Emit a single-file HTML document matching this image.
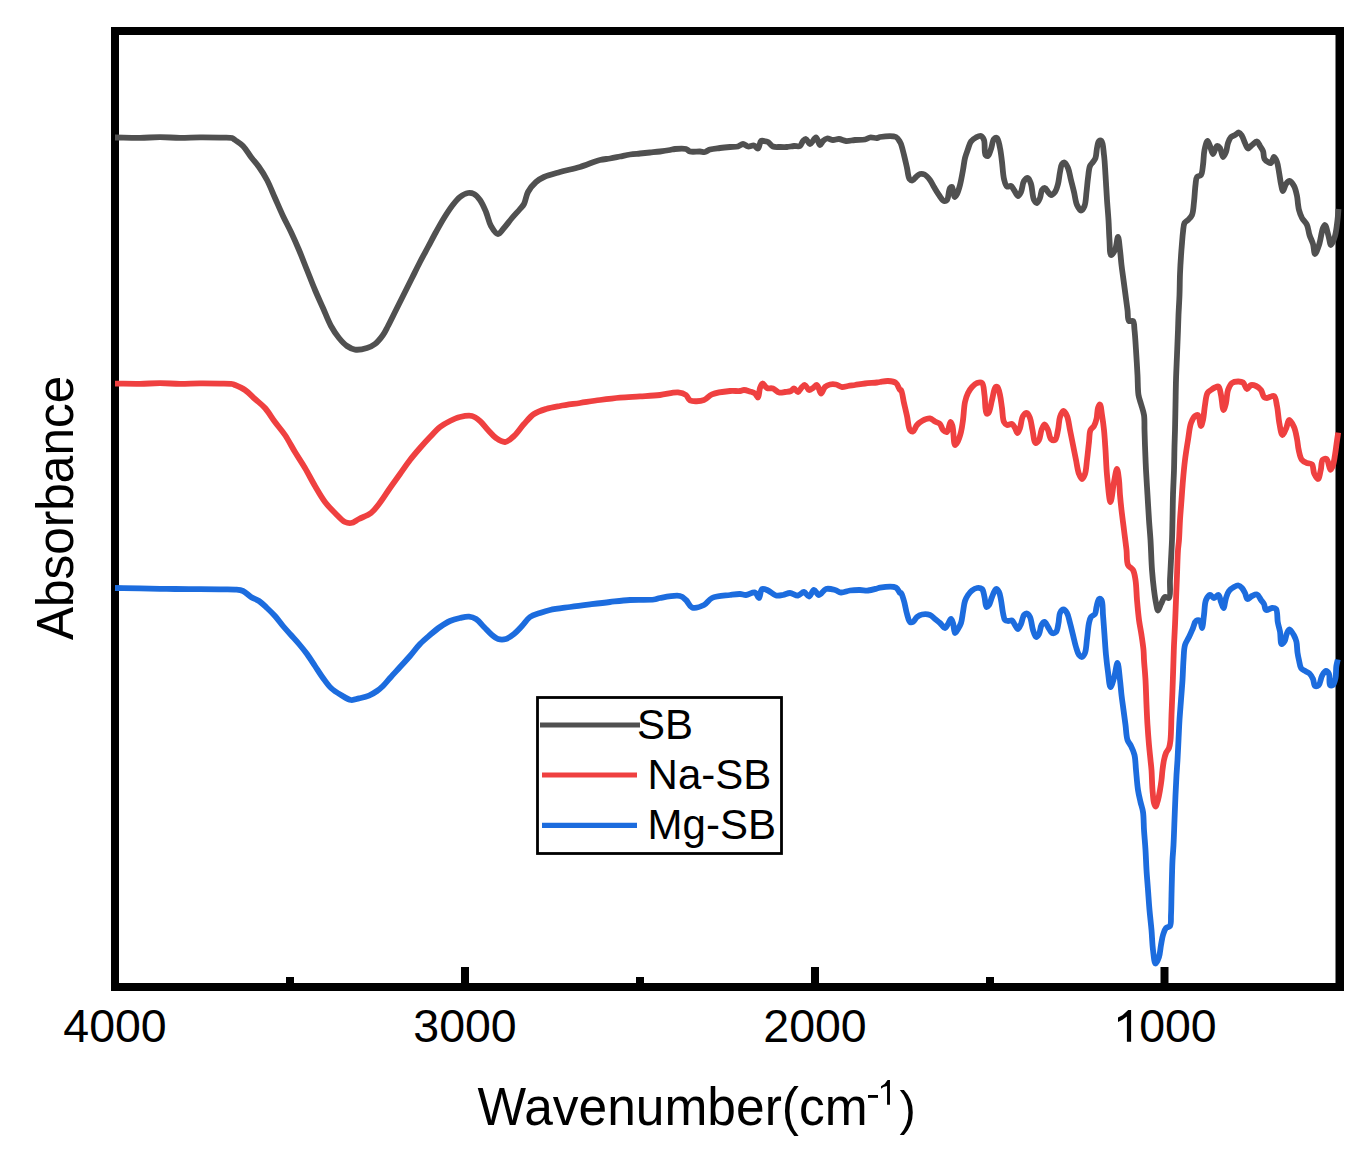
<!DOCTYPE html>
<html><head><meta charset="utf-8"><style>
html,body{margin:0;padding:0;background:#fff;}
body{width:1371px;height:1161px;overflow:hidden;}
svg{display:block;}
text{font-family:"Liberation Sans", sans-serif;fill:#000;}
</style></head><body>
<svg width="1371" height="1161" viewBox="0 0 1371 1161">
<rect x="0" y="0" width="1371" height="1161" fill="#fff"/>
<!-- ticks -->
<g fill="#000">
<rect x="286" y="977" width="8" height="8"/>
<rect x="636" y="977" width="8" height="8"/>
<rect x="986" y="977" width="8" height="8"/>
<rect x="461" y="967" width="8" height="18"/>
<rect x="811" y="967" width="8" height="18"/>
<rect x="1160.5" y="967" width="8" height="18"/>
</g>
<!-- frame -->
<g fill="#000">
<rect x="111" y="27" width="1233" height="8"/>
<rect x="111" y="983" width="1233" height="8"/>
<rect x="111" y="27" width="8" height="964"/>
<rect x="1335.5" y="27" width="8.5" height="964"/>
</g>
<!-- curves -->
<g fill="none" stroke-width="5.8" stroke-linejoin="round" stroke-linecap="butt">
<path stroke="#505050" d="M115.00 137.50 C123.33 137.60 132.13 137.87 140.00 137.80 C147.04 137.74 153.33 137.20 160.00 137.20 C166.67 137.20 173.33 137.77 180.00 137.80 C186.67 137.83 193.33 137.43 200.00 137.40 C206.67 137.37 214.18 137.47 220.00 137.60 C224.51 137.70 229.41 137.17 232.00 138.00 C233.42 138.46 233.77 139.13 235.00 140.00 C237.04 141.44 240.51 143.47 243.00 146.00 C245.91 148.95 248.29 153.45 251.00 157.00 C253.63 160.44 256.44 163.36 259.00 167.00 C261.79 170.97 264.48 175.22 267.00 180.00 C269.86 185.43 272.33 192.00 275.00 198.00 C277.67 204.00 280.27 210.21 283.00 216.00 C285.61 221.52 288.39 226.48 291.00 232.00 C293.73 237.79 296.39 243.82 299.00 250.00 C301.73 256.47 304.33 263.33 307.00 270.00 C309.67 276.67 312.27 283.53 315.00 290.00 C317.61 296.18 320.33 302.00 323.00 308.00 C325.67 314.00 328.09 320.71 331.00 326.00 C333.49 330.52 336.15 334.52 339.00 338.00 C341.52 341.08 344.14 344.03 347.00 346.00 C349.52 347.74 351.99 349.16 355.00 349.60 C358.53 350.12 363.48 349.08 367.00 348.00 C370.02 347.07 372.50 345.91 375.00 344.00 C377.90 341.78 380.78 338.13 383.00 335.00 C385.05 332.11 386.18 329.45 388.00 326.00 C390.40 321.45 393.33 315.33 396.00 310.00 C398.67 304.67 401.33 299.33 404.00 294.00 C406.67 288.67 409.33 283.33 412.00 278.00 C414.67 272.67 417.30 267.23 420.00 262.00 C422.63 256.90 425.33 252.00 428.00 247.00 C430.67 242.00 433.30 236.89 436.00 232.00 C438.63 227.23 441.25 222.44 444.00 218.00 C446.60 213.80 449.20 209.63 452.00 206.00 C454.56 202.69 457.10 199.22 460.00 197.00 C462.50 195.09 465.47 193.38 468.00 193.00 C470.09 192.69 472.14 193.04 474.00 194.00 C476.20 195.13 478.18 197.48 480.00 200.00 C482.29 203.17 484.20 207.79 486.00 212.00 C487.89 216.43 488.74 222.15 491.00 226.00 C492.91 229.25 495.72 233.92 498.00 234.00 C500.04 234.07 501.92 230.32 504.00 228.00 C506.55 225.15 509.29 221.21 512.00 218.00 C514.63 214.89 517.82 211.59 520.00 209.00 C521.59 207.11 522.83 206.16 524.00 204.00 C525.65 200.97 526.01 195.66 528.00 192.00 C530.00 188.32 533.10 184.58 536.00 182.00 C538.49 179.78 540.76 178.49 544.00 177.00 C548.32 175.02 554.35 173.59 560.00 172.00 C566.27 170.24 573.38 168.98 580.00 167.00 C586.71 164.99 594.42 161.38 600.00 160.00 C603.85 159.05 606.67 159.08 610.00 158.50 C613.34 157.92 616.67 157.17 620.00 156.50 C623.33 155.83 626.65 155.00 630.00 154.50 C633.32 154.00 636.67 153.83 640.00 153.50 C643.33 153.17 646.67 152.83 650.00 152.50 C653.33 152.17 656.67 151.92 660.00 151.50 C663.34 151.08 667.24 150.48 670.00 150.00 C671.96 149.66 673.00 149.20 675.00 149.00 C677.94 148.71 683.32 148.23 686.00 149.00 C687.76 149.50 688.28 151.01 690.00 151.50 C692.51 152.22 697.24 151.36 700.00 151.50 C701.96 151.60 703.38 152.30 705.00 152.00 C706.71 151.68 707.99 150.14 710.00 149.50 C712.71 148.64 716.66 148.42 720.00 148.00 C723.33 147.58 726.85 147.26 730.00 147.00 C732.81 146.77 735.70 147.12 738.00 146.50 C739.92 145.98 741.33 144.00 743.00 144.00 C744.67 144.00 746.21 146.23 748.00 146.50 C749.87 146.78 752.28 145.08 754.00 145.50 C755.56 145.88 756.91 148.81 758.00 148.50 C759.39 148.11 759.60 141.95 761.00 141.00 C761.85 140.42 762.94 140.87 764.00 141.00 C765.25 141.15 766.68 141.30 768.00 142.00 C769.69 142.90 771.03 145.66 773.00 146.50 C775.01 147.36 777.67 146.92 780.00 147.00 C782.33 147.08 784.67 147.17 787.00 147.00 C789.34 146.83 791.75 146.16 794.00 146.00 C796.07 145.85 798.50 146.85 800.00 146.00 C801.48 145.16 801.85 142.21 803.00 141.00 C803.91 140.05 805.00 138.84 806.00 139.00 C807.33 139.21 808.50 143.95 810.00 144.00 C811.77 144.06 814.32 137.28 816.00 137.50 C817.64 137.71 818.68 144.90 820.00 145.00 C821.01 145.08 821.81 142.09 823.00 141.00 C824.15 139.94 825.47 138.74 827.00 138.50 C828.75 138.22 830.99 139.92 833.00 140.00 C834.99 140.08 836.94 138.88 839.00 139.00 C841.26 139.13 843.50 140.79 846.00 141.00 C848.79 141.23 851.92 140.25 855.00 140.00 C858.24 139.74 862.28 140.09 865.00 139.50 C867.00 139.06 868.16 137.79 870.00 137.50 C872.10 137.17 875.17 138.23 877.00 138.00 C878.23 137.85 878.58 137.23 880.00 137.00 C883.20 136.48 892.64 135.39 896.00 137.00 C898.12 138.02 899.15 140.67 900.00 142.00 C900.50 142.78 900.63 143.04 901.00 144.00 C901.83 146.17 903.04 151.17 904.00 155.00 C905.04 159.14 906.05 163.85 907.00 168.00 C907.87 171.82 908.02 177.11 909.50 179.00 C910.31 180.03 911.52 180.66 912.50 180.50 C913.69 180.31 914.75 178.08 916.00 177.00 C917.25 175.91 918.54 174.40 920.00 174.00 C921.39 173.62 923.04 173.80 924.50 174.50 C926.41 175.42 928.43 177.94 930.00 180.00 C931.60 182.10 932.57 184.60 934.00 187.00 C935.55 189.59 937.25 192.58 939.00 195.00 C940.60 197.20 942.39 200.54 944.00 201.00 C945.02 201.29 946.17 200.90 947.00 200.00 C948.65 198.22 948.60 189.74 950.00 188.00 C950.59 187.26 951.42 186.73 952.00 187.00 C953.24 187.57 953.34 196.74 954.50 197.00 C955.21 197.16 956.24 195.36 957.00 194.00 C958.18 191.88 959.09 188.41 960.00 185.00 C961.15 180.67 962.13 174.73 963.00 170.00 C963.77 165.78 964.09 161.68 965.00 158.00 C965.81 154.75 966.96 151.85 968.00 149.00 C968.96 146.37 969.54 143.47 971.00 141.50 C972.30 139.75 974.24 138.42 976.00 137.50 C977.59 136.67 979.66 135.56 981.00 136.00 C982.31 136.43 983.26 138.10 984.00 140.00 C985.28 143.30 983.97 152.96 985.50 155.00 C986.15 155.86 987.26 156.31 988.00 156.00 C989.25 155.48 990.07 151.57 991.00 149.00 C992.09 145.99 992.47 140.57 994.00 139.00 C994.84 138.13 996.16 137.56 997.00 138.00 C998.53 138.79 999.20 144.35 1000.00 148.00 C1000.93 152.24 1001.36 157.10 1002.00 162.00 C1002.70 167.39 1002.87 174.54 1004.00 179.00 C1004.78 182.07 1005.48 185.60 1007.00 186.50 C1008.07 187.13 1009.87 185.52 1011.00 186.00 C1012.26 186.53 1012.95 188.52 1014.00 190.00 C1015.26 191.78 1016.74 195.96 1018.00 196.00 C1019.05 196.03 1020.13 193.77 1021.00 192.00 C1022.31 189.33 1022.39 183.37 1024.00 181.00 C1025.07 179.43 1026.88 177.74 1028.00 178.00 C1029.29 178.31 1030.14 181.44 1031.00 184.00 C1032.34 187.98 1032.37 196.90 1034.00 200.00 C1034.83 201.58 1036.07 203.11 1037.00 203.00 C1038.09 202.87 1039.20 199.93 1040.00 198.00 C1040.95 195.71 1040.82 191.67 1042.00 190.00 C1042.78 188.90 1044.07 187.84 1045.00 188.00 C1046.10 188.19 1046.96 190.80 1048.00 192.00 C1048.96 193.11 1049.89 194.92 1051.00 195.00 C1052.20 195.09 1053.91 193.45 1055.00 192.00 C1056.42 190.10 1057.20 186.98 1058.00 184.00 C1058.95 180.45 1059.25 175.58 1060.00 172.00 C1060.61 169.05 1060.87 165.52 1062.00 164.00 C1062.67 163.10 1063.69 162.31 1064.50 162.50 C1065.71 162.79 1067.02 165.72 1068.00 168.00 C1069.35 171.15 1070.00 176.00 1071.00 180.00 C1072.00 184.00 1073.02 187.92 1074.00 192.00 C1075.02 196.24 1075.49 201.70 1077.00 205.00 C1078.08 207.36 1079.70 210.48 1081.00 210.50 C1082.19 210.52 1083.62 208.07 1084.50 206.00 C1085.88 202.74 1085.92 196.67 1086.50 192.00 C1087.08 187.34 1087.39 182.48 1088.00 178.00 C1088.57 173.84 1088.79 168.83 1090.00 166.00 C1090.78 164.19 1092.07 163.35 1093.00 162.00 C1093.90 160.69 1094.87 159.72 1095.50 158.00 C1096.43 155.49 1096.35 151.02 1097.00 148.00 C1097.56 145.44 1097.86 141.86 1099.00 141.00 C1099.67 140.49 1100.81 140.42 1101.50 141.00 C1103.15 142.38 1103.36 149.90 1104.00 155.00 C1104.77 161.06 1105.02 167.96 1105.50 175.00 C1106.03 182.87 1106.47 192.13 1107.00 200.00 C1107.48 207.04 1108.08 213.33 1108.50 220.00 C1108.92 226.66 1109.04 233.82 1109.50 240.00 C1109.90 245.36 1109.56 254.58 1111.00 255.00 C1111.94 255.28 1113.93 252.21 1115.00 250.00 C1116.55 246.81 1117.16 236.97 1118.00 237.00 C1118.83 237.03 1119.43 245.50 1120.00 250.00 C1120.61 254.81 1120.92 260.00 1121.50 265.00 C1122.08 270.00 1122.83 275.00 1123.50 280.00 C1124.17 285.00 1124.83 290.00 1125.50 295.00 C1126.17 300.00 1126.88 305.39 1127.50 310.00 C1128.03 313.95 1127.42 319.62 1129.00 321.00 C1129.95 321.83 1132.07 320.21 1133.00 321.00 C1134.41 322.20 1134.07 326.40 1134.50 330.00 C1135.14 335.34 1135.52 342.96 1136.00 350.00 C1136.53 357.87 1137.07 367.13 1137.50 375.00 C1137.89 382.04 1137.64 389.68 1138.50 395.00 C1139.09 398.63 1140.13 400.85 1141.00 404.00 C1141.96 407.48 1143.40 411.01 1144.00 415.00 C1144.69 419.58 1144.34 424.92 1144.50 430.00 C1144.67 435.25 1144.79 440.13 1145.00 446.00 C1145.26 453.19 1145.59 461.92 1146.00 470.00 C1146.42 478.25 1147.00 486.67 1147.50 495.00 C1148.00 503.33 1148.47 512.13 1149.00 520.00 C1149.48 527.04 1150.04 532.66 1150.50 540.00 C1151.06 548.99 1151.33 561.02 1152.00 570.00 C1152.55 577.35 1153.25 584.06 1154.00 590.00 C1154.61 594.81 1155.22 599.28 1156.00 603.00 C1156.60 605.86 1157.14 610.43 1158.00 610.50 C1158.82 610.57 1159.88 606.18 1161.00 604.00 C1162.19 601.68 1163.36 597.70 1165.00 597.00 C1166.17 596.50 1168.05 598.70 1169.00 598.00 C1170.99 596.53 1169.67 586.16 1170.00 580.00 C1170.34 573.51 1170.67 566.67 1171.00 560.00 C1171.33 553.33 1171.75 546.67 1172.00 540.00 C1172.25 533.33 1172.34 527.04 1172.50 520.00 C1172.68 512.13 1172.75 503.33 1173.00 495.00 C1173.25 486.67 1173.75 478.25 1174.00 470.00 C1174.25 461.92 1174.31 453.19 1174.50 446.00 C1174.65 440.13 1174.85 435.93 1175.00 430.00 C1175.19 422.59 1175.33 413.33 1175.50 405.00 C1175.67 396.67 1175.75 388.33 1176.00 380.00 C1176.25 371.67 1176.67 363.33 1177.00 355.00 C1177.33 346.67 1177.73 337.28 1178.00 330.00 C1178.21 324.37 1178.28 320.36 1178.50 315.00 C1178.76 308.81 1179.25 301.75 1179.50 295.00 C1179.76 288.09 1179.73 280.73 1180.00 274.00 C1180.25 267.77 1180.63 261.51 1181.00 256.00 C1181.31 251.31 1181.65 247.15 1182.00 243.00 C1182.32 239.18 1182.55 235.47 1183.00 232.00 C1183.41 228.84 1183.33 225.07 1184.50 223.00 C1185.33 221.53 1186.85 221.19 1188.00 220.00 C1189.36 218.60 1191.02 217.22 1192.00 215.00 C1193.40 211.81 1193.44 206.63 1194.00 202.00 C1194.64 196.72 1194.87 189.60 1195.50 185.00 C1195.94 181.82 1195.75 178.65 1197.00 177.00 C1197.92 175.78 1200.02 176.28 1201.00 175.00 C1202.48 173.07 1202.45 168.68 1203.00 165.00 C1203.67 160.52 1203.58 154.32 1204.50 150.00 C1205.23 146.57 1206.45 141.07 1207.50 141.00 C1208.30 140.94 1209.18 144.11 1210.00 146.00 C1211.02 148.33 1211.85 153.94 1213.00 154.00 C1214.18 154.06 1215.52 146.39 1217.00 146.00 C1217.94 145.75 1219.15 146.88 1220.00 148.00 C1221.38 149.81 1221.85 156.87 1223.00 157.00 C1223.91 157.10 1225.21 153.99 1226.00 152.00 C1227.00 149.50 1227.06 145.65 1228.00 143.00 C1228.80 140.74 1229.65 138.35 1231.00 137.00 C1232.10 135.90 1233.68 135.74 1235.00 135.00 C1236.35 134.24 1237.83 132.32 1239.00 132.50 C1240.16 132.68 1241.10 134.55 1242.00 136.00 C1243.16 137.86 1243.95 140.83 1245.00 143.00 C1245.96 144.97 1246.77 148.28 1248.00 148.50 C1249.14 148.70 1250.56 146.13 1252.00 145.00 C1253.54 143.79 1255.64 141.24 1257.00 141.50 C1258.28 141.74 1259.02 144.45 1260.00 146.00 C1261.02 147.61 1262.26 149.06 1263.00 151.00 C1263.87 153.29 1263.40 157.10 1264.50 159.00 C1265.33 160.43 1266.81 161.33 1268.00 162.00 C1268.98 162.56 1270.13 163.36 1271.00 163.00 C1272.27 162.47 1272.96 157.04 1274.00 157.00 C1274.97 156.96 1276.21 159.97 1277.00 162.00 C1278.04 164.69 1278.36 168.51 1279.00 172.00 C1279.70 175.81 1280.22 180.55 1281.00 184.00 C1281.60 186.67 1282.18 190.95 1283.00 191.00 C1283.84 191.05 1284.72 185.74 1286.00 184.00 C1287.00 182.64 1288.30 180.92 1289.50 181.00 C1290.95 181.09 1292.81 183.88 1294.00 186.00 C1295.48 188.64 1296.33 192.83 1297.00 196.00 C1297.59 198.79 1297.64 201.53 1298.00 204.00 C1298.31 206.15 1298.43 207.89 1299.00 210.00 C1299.67 212.51 1300.67 215.50 1302.00 218.00 C1303.33 220.50 1305.77 222.33 1307.00 225.00 C1308.35 227.93 1308.48 231.79 1309.50 235.00 C1310.49 238.11 1312.09 240.88 1313.00 244.00 C1313.94 247.21 1313.99 253.89 1315.00 254.00 C1316.00 254.11 1317.81 248.54 1319.00 245.00 C1320.59 240.29 1321.57 231.28 1323.00 228.00 C1323.65 226.51 1324.34 224.91 1325.00 225.00 C1326.18 225.17 1327.46 232.51 1328.50 236.00 C1329.44 239.14 1329.94 244.92 1331.00 245.00 C1332.09 245.08 1333.97 239.51 1335.00 236.00 C1336.33 231.50 1336.90 224.84 1337.50 220.00 C1337.99 216.00 1338.17 212.67 1338.50 209.00"/>
<path stroke="#EF4040" d="M115.00 383.60 C123.33 383.67 132.13 383.89 140.00 383.80 C147.04 383.72 153.33 383.20 160.00 383.20 C166.67 383.20 173.33 383.77 180.00 383.80 C186.67 383.83 193.33 383.43 200.00 383.40 C206.67 383.37 214.18 383.47 220.00 383.60 C224.51 383.70 229.36 383.53 232.00 384.00 C233.36 384.24 233.73 384.47 235.00 385.00 C237.38 385.99 241.81 387.82 245.00 390.00 C248.50 392.39 251.67 396.00 255.00 399.00 C258.33 402.00 261.85 404.47 265.00 408.00 C268.56 411.99 271.63 417.45 275.00 422.00 C278.29 426.44 281.81 430.27 285.00 435.00 C288.50 440.19 291.63 446.44 295.00 452.00 C298.30 457.44 301.74 462.47 305.00 468.00 C308.41 473.78 311.59 480.22 315.00 486.00 C318.26 491.53 321.44 497.30 325.00 502.00 C328.16 506.17 331.58 509.60 335.00 513.00 C338.25 516.24 341.88 520.50 345.00 522.00 C347.10 523.01 348.91 523.31 351.00 523.00 C353.53 522.62 356.06 520.47 359.00 519.00 C362.60 517.20 367.61 515.60 371.00 513.00 C374.21 510.54 376.24 507.53 379.00 504.00 C382.51 499.52 386.40 493.14 390.00 488.00 C393.39 483.16 396.67 478.67 400.00 474.00 C403.33 469.33 406.58 464.43 410.00 460.00 C413.26 455.78 416.62 451.88 420.00 448.00 C423.29 444.22 426.62 440.54 430.00 437.00 C433.29 433.55 436.49 429.74 440.00 427.00 C443.19 424.51 446.60 422.69 450.00 421.00 C453.27 419.38 456.45 417.84 460.00 417.00 C463.76 416.11 468.52 415.16 472.00 416.00 C475.08 416.75 477.48 418.87 480.00 421.00 C482.85 423.41 485.29 427.13 488.00 430.00 C490.63 432.79 493.05 435.97 496.00 438.00 C498.75 439.89 502.07 442.25 505.00 442.00 C508.07 441.74 511.10 438.60 514.00 436.00 C517.48 432.87 520.58 427.75 524.00 424.00 C527.25 420.44 530.24 416.52 534.00 414.00 C537.61 411.58 541.78 410.32 546.00 409.00 C550.43 407.62 554.90 406.93 560.00 406.00 C566.06 404.90 573.33 404.00 580.00 403.00 C586.67 402.00 593.33 400.90 600.00 400.00 C606.66 399.10 613.32 398.20 620.00 397.60 C626.66 397.00 633.33 396.83 640.00 396.40 C646.67 395.97 653.52 395.69 660.00 395.00 C666.17 394.34 673.24 391.99 678.00 392.40 C681.24 392.68 683.95 393.53 686.00 395.00 C687.83 396.32 687.89 399.37 690.00 400.40 C693.05 401.88 700.14 401.28 704.00 400.00 C707.23 398.93 708.61 395.83 712.00 394.40 C716.64 392.44 724.86 391.48 730.00 391.00 C733.80 390.64 737.43 391.32 740.00 391.00 C741.65 390.80 742.53 390.00 744.00 390.00 C745.80 390.00 748.11 390.89 750.00 391.50 C751.76 392.07 753.65 392.47 755.00 393.50 C756.30 394.49 757.22 397.67 758.00 397.50 C759.09 397.26 759.06 390.53 760.00 388.00 C760.69 386.16 761.42 383.65 762.50 383.50 C763.70 383.33 765.22 387.17 767.00 388.00 C768.73 388.80 771.08 387.83 773.00 388.50 C775.10 389.23 776.90 391.96 779.00 392.50 C780.92 392.99 783.01 392.25 785.00 392.00 C787.01 391.75 789.42 391.73 791.00 391.00 C792.27 390.42 792.93 388.49 794.00 388.50 C795.24 388.51 796.72 392.11 798.00 392.00 C799.40 391.88 800.67 388.22 802.00 387.00 C803.00 386.08 804.00 384.84 805.00 385.00 C806.33 385.21 807.52 389.68 809.00 390.00 C810.23 390.27 811.70 388.80 813.00 388.00 C814.37 387.15 815.82 384.71 817.00 385.00 C818.62 385.40 819.59 393.42 821.00 393.50 C822.27 393.57 823.34 388.52 825.00 387.00 C826.42 385.70 828.20 384.92 830.00 384.50 C831.86 384.06 834.04 384.11 836.00 384.50 C838.04 384.91 839.97 386.77 842.00 387.00 C843.97 387.23 845.92 386.32 848.00 386.00 C850.24 385.65 852.46 385.37 855.00 385.00 C858.04 384.56 861.51 383.91 865.00 383.50 C868.81 383.06 874.34 382.83 877.00 382.50 C878.34 382.33 878.76 382.18 880.00 382.00 C882.02 381.71 885.35 380.84 888.00 381.00 C890.68 381.16 894.00 381.48 896.00 383.00 C897.98 384.50 898.95 389.39 900.00 390.00 C900.37 390.21 900.68 389.75 901.00 390.00 C902.17 390.93 903.00 398.67 904.00 403.00 C905.00 407.33 906.02 411.58 907.00 416.00 C908.02 420.58 908.28 427.78 910.00 430.00 C910.83 431.07 912.05 431.77 913.00 431.50 C914.44 431.09 915.41 426.80 917.00 425.00 C918.45 423.36 920.02 422.05 922.00 421.00 C924.26 419.80 927.70 418.23 930.00 418.50 C931.92 418.73 933.32 420.58 935.00 421.50 C936.65 422.41 938.69 422.69 940.00 424.00 C941.43 425.43 941.65 428.65 943.00 430.00 C944.10 431.10 945.89 432.45 947.00 432.00 C948.70 431.31 949.42 422.07 950.50 422.00 C951.20 421.96 951.92 424.10 952.50 426.00 C953.70 429.92 953.47 444.56 955.00 445.00 C955.69 445.20 956.71 443.39 957.50 442.00 C958.79 439.72 960.10 435.53 961.00 432.00 C961.97 428.22 962.39 424.41 963.00 420.00 C963.75 414.62 963.92 406.92 965.00 402.00 C965.78 398.44 966.72 395.62 968.00 393.00 C969.12 390.71 970.44 388.70 972.00 387.00 C973.47 385.40 975.22 383.63 977.00 383.00 C978.58 382.45 980.78 382.00 982.00 383.00 C983.92 384.56 983.80 390.55 984.50 395.00 C985.37 400.48 984.83 412.34 986.50 413.50 C987.06 413.89 987.89 413.60 988.50 413.00 C990.05 411.48 990.83 404.33 992.00 400.00 C993.17 395.67 993.93 388.21 995.50 387.00 C996.11 386.54 996.92 386.57 997.50 387.00 C998.69 387.88 999.30 391.98 1000.00 395.00 C1000.88 398.78 1001.34 403.58 1002.00 408.00 C1002.68 412.58 1002.58 419.17 1004.00 422.00 C1004.78 423.55 1005.75 424.62 1007.00 425.00 C1008.37 425.41 1010.66 423.49 1012.00 424.00 C1013.32 424.51 1014.10 426.55 1015.00 428.00 C1015.95 429.53 1016.67 433.00 1017.50 433.00 C1018.33 433.00 1019.23 430.08 1020.00 428.00 C1021.14 424.91 1021.33 418.52 1023.00 416.00 C1024.06 414.40 1025.86 412.78 1027.00 413.00 C1028.23 413.24 1029.17 415.89 1030.00 418.00 C1031.20 421.06 1031.61 425.92 1032.50 430.00 C1033.43 434.25 1033.88 442.47 1035.50 443.00 C1036.45 443.31 1038.08 441.49 1039.00 440.00 C1040.38 437.77 1040.41 432.78 1041.50 430.00 C1042.35 427.83 1043.43 424.54 1044.50 424.50 C1045.59 424.46 1046.99 427.87 1048.00 430.00 C1049.22 432.57 1049.38 437.50 1051.00 439.00 C1052.07 439.99 1053.94 440.60 1055.00 440.00 C1056.69 439.04 1057.19 433.58 1058.00 430.00 C1058.91 425.98 1058.79 420.42 1060.00 417.00 C1060.88 414.52 1062.29 411.05 1063.50 411.00 C1064.63 410.95 1066.04 413.79 1067.00 416.00 C1068.48 419.39 1069.02 425.25 1070.00 430.00 C1071.02 434.91 1072.00 440.00 1073.00 445.00 C1074.00 450.00 1074.98 455.09 1076.00 460.00 C1076.98 464.75 1077.65 470.59 1079.00 474.00 C1079.86 476.18 1081.00 479.00 1082.00 479.00 C1083.00 479.00 1084.22 476.19 1085.00 474.00 C1086.21 470.59 1086.37 464.96 1087.00 460.00 C1087.71 454.38 1088.36 447.39 1089.00 442.00 C1089.52 437.59 1089.24 432.80 1090.50 430.00 C1091.33 428.14 1093.05 427.63 1094.00 426.00 C1095.13 424.08 1095.86 421.63 1096.50 419.00 C1097.29 415.78 1097.12 410.59 1098.00 408.00 C1098.53 406.44 1099.43 404.41 1100.00 404.50 C1100.93 404.65 1101.38 411.18 1102.00 415.00 C1102.74 419.55 1103.44 424.63 1104.00 430.00 C1104.64 436.18 1105.02 442.96 1105.50 450.00 C1106.03 457.87 1106.20 466.52 1107.00 475.00 C1107.84 483.84 1109.23 501.97 1110.50 502.00 C1111.59 502.02 1112.80 487.94 1114.00 482.00 C1114.98 477.19 1116.14 468.98 1117.00 469.00 C1117.79 469.02 1118.51 476.03 1119.00 480.00 C1119.57 484.60 1119.58 490.00 1120.00 495.00 C1120.42 500.00 1120.90 504.64 1121.50 510.00 C1122.20 516.19 1123.17 523.33 1124.00 530.00 C1124.83 536.67 1125.80 543.81 1126.50 550.00 C1127.10 555.36 1126.35 561.52 1128.00 565.00 C1129.13 567.38 1131.78 567.84 1133.00 570.00 C1134.48 572.61 1134.86 576.06 1135.50 580.00 C1136.39 585.49 1136.42 593.34 1137.00 600.00 C1137.58 606.67 1138.18 613.82 1139.00 620.00 C1139.72 625.37 1140.75 629.99 1141.50 635.00 C1142.25 639.99 1143.09 645.50 1143.50 650.00 C1143.84 653.66 1143.76 656.10 1144.00 660.00 C1144.35 665.52 1145.10 672.96 1145.50 680.00 C1145.95 687.87 1146.15 697.13 1146.50 705.00 C1146.82 712.04 1147.08 718.34 1147.50 725.00 C1147.92 731.67 1148.46 738.82 1149.00 745.00 C1149.47 750.36 1150.05 755.51 1150.50 760.00 C1150.87 763.67 1151.21 766.09 1151.50 770.00 C1151.91 775.52 1152.01 784.06 1152.50 790.00 C1152.90 794.81 1153.22 800.08 1154.00 803.00 C1154.42 804.58 1154.95 806.51 1155.50 806.50 C1156.24 806.49 1157.29 802.43 1158.00 800.00 C1158.85 797.06 1159.42 793.34 1160.00 790.00 C1160.58 786.67 1161.08 783.34 1161.50 780.00 C1161.92 776.67 1162.08 773.33 1162.50 770.00 C1162.92 766.66 1163.35 763.02 1164.00 760.00 C1164.56 757.44 1165.10 755.08 1166.00 753.00 C1166.81 751.13 1168.26 749.94 1169.00 748.00 C1169.87 745.71 1170.11 743.42 1170.50 740.00 C1171.18 734.00 1171.17 723.33 1171.50 715.00 C1171.83 706.67 1172.18 698.71 1172.50 690.00 C1172.85 680.46 1173.22 668.28 1173.50 660.00 C1173.70 654.14 1173.78 650.36 1174.00 645.00 C1174.26 638.81 1174.68 632.04 1175.00 625.00 C1175.35 617.13 1175.67 608.33 1176.00 600.00 C1176.33 591.67 1176.67 583.33 1177.00 575.00 C1177.33 566.67 1177.55 556.45 1178.00 550.00 C1178.29 545.91 1178.71 543.91 1179.00 540.00 C1179.41 534.48 1179.58 526.66 1180.00 520.00 C1180.42 513.33 1181.00 506.67 1181.50 500.00 C1182.00 493.33 1182.42 486.66 1183.00 480.00 C1183.58 473.33 1184.17 466.66 1185.00 460.00 C1185.83 453.32 1186.96 446.39 1188.00 440.00 C1188.96 434.10 1189.44 427.33 1191.00 423.00 C1192.07 420.04 1193.50 417.23 1195.00 416.00 C1195.94 415.23 1197.16 414.55 1198.00 415.00 C1199.59 415.85 1200.06 425.97 1201.00 426.00 C1201.70 426.02 1202.43 422.48 1203.00 420.00 C1203.89 416.16 1204.20 409.71 1205.00 405.00 C1205.72 400.76 1206.00 395.53 1207.50 393.00 C1208.42 391.45 1209.76 390.91 1211.00 390.00 C1212.26 389.08 1213.67 388.09 1215.00 387.50 C1216.17 386.98 1217.58 385.99 1218.50 386.50 C1219.93 387.29 1220.25 391.74 1221.00 395.00 C1221.98 399.27 1222.46 409.91 1223.50 410.00 C1224.23 410.07 1225.31 405.73 1226.00 403.00 C1226.92 399.37 1226.75 393.57 1228.00 390.00 C1228.98 387.20 1230.16 384.39 1232.00 383.00 C1233.61 381.78 1236.09 381.55 1238.00 381.50 C1239.74 381.46 1241.59 381.52 1243.00 382.50 C1244.72 383.70 1245.55 388.83 1247.00 389.00 C1248.25 389.15 1249.45 385.47 1251.00 385.00 C1252.47 384.55 1254.42 385.26 1256.00 386.00 C1257.77 386.83 1259.69 388.28 1261.00 390.00 C1262.43 391.87 1262.66 395.77 1264.00 397.00 C1264.86 397.79 1265.79 397.97 1267.00 398.00 C1268.84 398.04 1272.35 395.10 1274.00 396.00 C1275.98 397.08 1276.18 402.19 1277.00 406.00 C1278.06 410.88 1278.29 417.85 1279.30 423.00 C1280.16 427.38 1281.04 434.83 1282.40 435.00 C1283.49 435.14 1285.21 430.46 1286.30 428.00 C1287.42 425.47 1287.73 420.19 1289.00 420.00 C1290.29 419.81 1292.71 424.21 1294.00 427.00 C1295.54 430.34 1296.21 435.07 1297.00 439.00 C1297.75 442.73 1297.87 446.48 1298.70 450.00 C1299.49 453.37 1300.17 457.52 1301.80 459.70 C1303.01 461.31 1304.73 462.03 1306.40 462.80 C1308.09 463.58 1310.61 462.98 1311.90 464.30 C1313.58 466.02 1313.02 471.01 1314.20 473.60 C1315.18 475.75 1316.96 479.17 1318.00 479.00 C1319.26 478.80 1320.02 472.96 1320.80 469.80 C1321.60 466.53 1321.17 461.22 1322.70 459.70 C1323.65 458.76 1325.50 458.36 1326.60 459.00 C1328.48 460.08 1329.24 469.68 1330.50 469.80 C1331.28 469.88 1332.15 467.69 1332.80 466.00 C1333.87 463.23 1334.45 458.21 1335.10 454.30 C1335.75 450.41 1336.16 446.35 1336.70 442.60 C1337.20 439.13 1337.70 435.93 1338.20 432.60"/>
<path stroke="#1C6CDE" d="M115.00 588.00 C123.33 588.13 132.13 588.26 140.00 588.40 C147.04 588.53 153.81 588.70 160.00 588.80 C165.36 588.89 169.36 588.94 175.00 589.00 C182.27 589.08 192.13 589.13 200.00 589.20 C207.04 589.26 213.81 589.33 220.00 589.40 C225.36 589.46 230.79 589.21 235.00 589.60 C238.10 589.89 240.46 589.90 243.00 591.00 C245.82 592.22 248.25 595.30 251.00 597.00 C253.60 598.60 256.44 599.28 259.00 601.00 C261.79 602.87 264.37 605.54 267.00 608.00 C269.71 610.53 272.41 613.11 275.00 616.00 C277.75 619.08 280.29 622.79 283.00 626.00 C285.63 629.11 288.33 632.00 291.00 635.00 C293.67 638.00 296.37 640.89 299.00 644.00 C301.71 647.21 304.41 650.46 307.00 654.00 C309.75 657.76 312.33 662.00 315.00 666.00 C317.67 670.00 320.25 674.24 323.00 678.00 C325.59 681.54 327.96 685.14 331.00 688.00 C333.97 690.79 337.59 692.97 341.00 695.00 C344.26 696.94 347.78 699.57 351.00 700.00 C353.75 700.37 356.20 699.07 359.00 698.40 C362.16 697.64 365.93 696.89 369.00 695.60 C371.90 694.38 374.59 692.68 377.00 691.00 C379.22 689.46 381.00 687.95 383.00 686.00 C385.33 683.72 387.44 680.87 390.00 678.00 C393.02 674.61 396.67 670.67 400.00 667.00 C403.33 663.33 406.71 659.78 410.00 656.00 C413.38 652.12 416.53 647.60 420.00 644.00 C423.22 640.66 426.62 637.86 430.00 635.00 C433.29 632.20 436.58 629.37 440.00 627.00 C443.26 624.73 446.57 622.52 450.00 621.00 C453.25 619.57 456.73 618.74 460.00 618.00 C463.05 617.31 466.22 616.35 469.00 616.60 C471.51 616.82 473.75 617.59 476.00 619.00 C478.79 620.74 481.33 624.33 484.00 627.00 C486.67 629.67 489.42 632.89 492.00 635.00 C494.06 636.69 495.74 638.32 498.00 639.00 C500.38 639.72 503.43 639.74 506.00 639.00 C508.79 638.20 511.44 636.03 514.00 634.00 C516.80 631.77 519.37 628.79 522.00 626.00 C524.71 623.13 526.89 619.18 530.00 617.00 C532.94 614.94 536.64 614.17 540.00 613.00 C543.31 611.84 546.06 610.88 550.00 610.00 C555.49 608.77 563.33 607.93 570.00 607.00 C576.66 606.07 583.33 605.23 590.00 604.40 C596.66 603.57 603.33 602.73 610.00 602.00 C616.66 601.27 623.02 600.42 630.00 600.00 C637.63 599.54 648.69 600.21 654.00 599.50 C656.69 599.14 657.39 598.45 660.00 598.00 C664.70 597.18 675.41 594.86 680.00 596.00 C682.75 596.68 684.12 598.29 686.00 600.00 C688.16 601.97 689.28 606.42 692.00 607.40 C695.08 608.51 700.59 606.68 704.00 605.00 C707.18 603.43 708.51 599.65 712.00 598.00 C716.58 595.83 724.87 595.68 730.00 595.00 C733.81 594.49 737.10 593.90 740.00 594.00 C742.26 594.07 743.81 595.12 746.00 595.00 C748.71 594.86 752.78 591.72 755.00 592.50 C756.90 593.16 757.89 598.17 759.00 598.00 C760.31 597.80 760.18 590.00 762.00 589.00 C763.47 588.19 765.93 589.62 768.00 590.50 C770.56 591.59 773.31 594.83 776.00 595.50 C778.32 596.08 780.69 595.41 783.00 595.00 C785.36 594.58 787.59 592.97 790.00 593.00 C792.58 593.03 795.58 595.77 798.00 595.50 C800.20 595.25 802.15 591.81 804.00 592.00 C805.82 592.19 807.41 596.65 809.00 596.50 C810.76 596.34 812.27 590.11 814.00 590.00 C815.61 589.90 817.16 594.93 819.00 595.00 C821.10 595.08 823.32 589.83 826.00 589.00 C828.66 588.18 832.35 589.31 835.00 590.00 C837.25 590.58 838.76 592.30 841.00 592.50 C843.66 592.74 846.90 590.92 850.00 590.50 C853.23 590.06 856.85 589.98 860.00 590.00 C862.82 590.02 865.27 590.71 868.00 590.50 C870.93 590.27 874.81 589.07 877.00 588.50 C878.28 588.17 878.58 587.81 880.00 587.60 C883.20 587.13 892.65 585.91 896.00 587.60 C898.17 588.69 899.01 592.50 900.00 593.00 C900.38 593.19 900.66 592.77 901.00 593.00 C901.98 593.68 903.09 597.98 904.00 601.00 C905.14 604.78 905.86 610.22 907.00 614.00 C907.91 617.02 908.57 621.01 910.00 622.00 C910.85 622.59 912.04 622.46 913.00 622.00 C914.41 621.32 915.43 618.27 917.00 617.00 C918.46 615.82 920.08 614.89 922.00 614.50 C924.30 614.03 927.76 614.13 930.00 615.00 C932.00 615.77 933.33 617.67 935.00 619.00 C936.67 620.33 938.37 621.54 940.00 623.00 C941.71 624.53 943.59 628.10 945.00 628.00 C946.18 627.92 947.04 625.43 948.00 624.00 C949.04 622.45 950.13 618.97 951.00 619.00 C951.76 619.03 952.42 621.32 953.00 623.00 C953.87 625.54 953.89 632.75 955.00 633.00 C955.78 633.18 957.06 630.52 958.00 629.00 C959.08 627.24 960.21 625.37 961.00 623.00 C962.02 619.94 962.33 615.67 963.00 612.00 C963.67 608.33 963.98 604.06 965.00 601.00 C965.79 598.63 966.79 596.79 968.00 595.00 C969.15 593.31 970.46 591.68 972.00 590.50 C973.48 589.37 975.29 588.23 977.00 588.00 C978.63 587.78 980.78 587.90 982.00 589.00 C983.57 590.41 983.78 594.16 984.50 597.00 C985.30 600.13 985.31 606.57 986.50 607.00 C987.17 607.24 988.25 606.03 989.00 605.00 C990.22 603.31 990.85 599.64 992.00 597.00 C993.18 594.30 994.60 589.23 996.00 589.00 C996.97 588.84 998.22 590.62 999.00 592.00 C1000.09 593.93 1000.39 597.00 1001.00 600.00 C1001.76 603.79 1002.20 609.35 1003.00 613.00 C1003.59 615.71 1003.82 618.77 1005.00 620.00 C1005.78 620.81 1006.92 620.89 1008.00 621.00 C1009.23 621.12 1010.88 619.99 1012.00 620.50 C1013.29 621.09 1013.98 623.56 1015.00 625.00 C1015.98 626.39 1017.04 629.05 1018.00 629.00 C1019.04 628.95 1020.09 625.97 1021.00 624.00 C1022.15 621.49 1022.57 616.65 1024.00 615.00 C1024.85 614.02 1026.07 613.31 1027.00 613.50 C1028.09 613.72 1029.15 615.32 1030.00 617.00 C1031.44 619.85 1031.82 626.38 1033.00 630.00 C1033.89 632.74 1034.81 636.77 1036.00 637.00 C1036.89 637.17 1038.18 635.41 1039.00 634.00 C1040.22 631.91 1040.28 627.09 1041.50 625.00 C1042.32 623.59 1043.51 621.91 1044.50 622.00 C1045.68 622.10 1046.80 625.25 1048.00 627.00 C1049.30 628.90 1050.42 632.39 1052.00 633.00 C1053.19 633.46 1054.98 633.00 1056.00 632.00 C1057.54 630.50 1057.84 626.10 1058.50 623.00 C1059.19 619.77 1058.81 615.35 1060.00 613.00 C1060.83 611.35 1062.33 609.50 1063.50 609.50 C1064.67 609.50 1066.03 611.37 1067.00 613.00 C1068.41 615.36 1069.04 619.50 1070.00 623.00 C1071.05 626.81 1072.00 631.00 1073.00 635.00 C1074.00 639.00 1074.89 643.43 1076.00 647.00 C1076.92 649.97 1077.67 653.33 1079.00 655.00 C1079.86 656.09 1081.07 657.16 1082.00 657.00 C1083.10 656.81 1084.23 654.87 1085.00 653.00 C1086.30 649.85 1086.35 643.83 1087.00 639.00 C1087.69 633.85 1088.09 627.02 1089.00 623.00 C1089.57 620.48 1089.89 618.54 1091.00 617.00 C1091.98 615.63 1094.08 615.43 1095.00 614.00 C1096.10 612.29 1095.87 609.40 1096.50 607.00 C1097.18 604.41 1097.76 599.59 1099.00 599.00 C1099.70 598.67 1100.85 599.14 1101.50 600.00 C1103.03 602.04 1102.53 609.64 1103.00 615.00 C1103.54 621.18 1104.00 628.33 1104.50 635.00 C1105.00 641.67 1105.38 648.61 1106.00 655.00 C1106.57 660.90 1107.22 666.52 1108.00 672.00 C1108.73 677.17 1109.32 686.88 1110.50 687.00 C1111.44 687.10 1112.94 681.42 1114.00 678.00 C1115.34 673.68 1116.52 662.96 1117.50 663.00 C1118.54 663.04 1119.32 674.50 1120.00 680.00 C1120.64 685.15 1120.92 690.00 1121.50 695.00 C1122.08 700.00 1122.83 705.00 1123.50 710.00 C1124.17 715.00 1124.83 720.00 1125.50 725.00 C1126.17 730.00 1126.20 736.22 1127.50 740.00 C1128.38 742.56 1129.91 743.75 1131.00 746.00 C1132.28 748.65 1133.67 751.55 1134.50 755.00 C1135.53 759.30 1135.46 764.64 1136.00 770.00 C1136.62 776.19 1137.11 784.20 1138.00 790.00 C1138.70 794.53 1139.63 798.19 1140.50 802.00 C1141.30 805.49 1142.42 808.15 1143.00 812.00 C1143.77 817.09 1143.60 823.84 1144.00 830.00 C1144.42 836.49 1145.08 843.33 1145.50 850.00 C1145.92 856.66 1146.08 863.34 1146.50 870.00 C1146.92 876.67 1147.50 883.33 1148.00 890.00 C1148.50 896.67 1148.92 903.34 1149.50 910.00 C1150.08 916.67 1150.92 923.33 1151.50 930.00 C1152.08 936.66 1152.22 944.01 1153.00 950.00 C1153.64 954.96 1154.23 963.30 1155.50 963.50 C1156.43 963.65 1158.12 959.58 1159.00 957.00 C1160.13 953.69 1160.30 948.81 1161.00 945.00 C1161.64 941.51 1162.07 937.99 1163.00 935.00 C1163.80 932.41 1164.58 929.50 1166.00 928.00 C1167.09 926.85 1169.10 927.31 1170.00 926.00 C1171.41 923.93 1170.76 919.22 1171.00 915.00 C1171.33 909.33 1171.33 901.67 1171.50 895.00 C1171.67 888.33 1171.82 881.19 1172.00 875.00 C1172.16 869.64 1172.25 865.00 1172.50 860.00 C1172.75 855.00 1173.20 850.64 1173.50 845.00 C1173.89 837.73 1174.17 828.33 1174.50 820.00 C1174.83 811.67 1175.15 802.87 1175.50 795.00 C1175.82 787.96 1176.14 781.19 1176.50 775.00 C1176.81 769.64 1177.19 765.36 1177.50 760.00 C1177.86 753.81 1178.17 746.67 1178.50 740.00 C1178.83 733.33 1179.08 726.66 1179.50 720.00 C1179.92 713.33 1180.50 706.67 1181.00 700.00 C1181.50 693.33 1182.08 686.67 1182.50 680.00 C1182.92 673.34 1183.04 666.18 1183.50 660.00 C1183.90 654.64 1183.80 649.13 1185.00 645.00 C1185.92 641.82 1187.70 639.76 1189.00 637.00 C1190.37 634.10 1191.77 630.82 1193.00 628.00 C1194.08 625.52 1194.51 621.98 1196.00 621.00 C1197.08 620.29 1199.02 620.26 1200.00 621.00 C1201.32 621.99 1201.41 628.04 1202.00 628.00 C1202.80 627.95 1203.36 619.49 1204.00 615.00 C1204.69 610.18 1204.50 603.52 1206.00 600.00 C1206.98 597.71 1208.57 595.18 1210.00 595.00 C1211.26 594.84 1212.61 597.96 1214.00 598.00 C1215.44 598.04 1217.36 594.62 1218.50 595.00 C1219.83 595.44 1220.14 599.77 1221.00 602.00 C1221.81 604.09 1222.74 608.06 1223.50 608.00 C1224.45 607.93 1224.99 601.00 1226.00 598.00 C1226.87 595.42 1227.57 592.87 1229.00 591.00 C1230.31 589.28 1232.29 587.93 1234.00 587.00 C1235.47 586.20 1237.14 585.30 1238.50 585.50 C1239.79 585.69 1240.98 586.89 1242.00 588.00 C1243.19 589.29 1244.10 591.22 1245.00 593.00 C1245.95 594.88 1246.24 598.62 1247.50 599.00 C1248.65 599.35 1250.40 596.75 1252.00 596.00 C1253.57 595.26 1255.57 594.02 1257.00 594.50 C1258.64 595.05 1259.76 598.32 1261.00 600.00 C1262.07 601.44 1263.19 602.46 1264.00 604.00 C1264.91 605.74 1264.67 609.33 1266.00 610.00 C1267.33 610.67 1270.19 608.07 1272.00 608.00 C1273.46 607.94 1275.02 607.91 1276.00 609.00 C1277.76 610.97 1277.05 618.28 1277.80 622.30 C1278.43 625.69 1279.39 628.26 1280.00 631.60 C1280.70 635.42 1280.29 643.54 1281.60 644.00 C1282.37 644.27 1283.89 642.35 1284.70 641.00 C1285.75 639.25 1285.83 636.06 1286.70 634.00 C1287.45 632.23 1288.32 629.36 1289.40 629.30 C1290.68 629.22 1292.81 633.35 1294.00 635.50 C1295.10 637.50 1295.83 639.30 1296.40 641.70 C1297.14 644.78 1297.01 649.29 1297.50 652.60 C1297.91 655.40 1298.42 657.74 1299.00 660.30 C1299.58 662.88 1299.88 666.27 1301.00 668.00 C1301.78 669.20 1302.81 669.60 1304.00 670.40 C1305.52 671.43 1308.01 672.08 1309.50 673.50 C1311.02 674.94 1312.09 676.98 1313.00 679.00 C1313.96 681.13 1313.72 685.27 1315.00 686.00 C1315.94 686.53 1317.76 685.96 1318.80 685.00 C1320.43 683.49 1320.64 678.28 1322.00 675.80 C1323.08 673.83 1324.54 671.09 1325.80 671.00 C1326.87 670.92 1328.26 672.49 1329.00 674.00 C1330.17 676.39 1328.66 683.77 1330.00 685.00 C1330.68 685.62 1332.01 685.54 1332.80 685.00 C1334.09 684.12 1334.91 680.67 1335.50 678.00 C1336.24 674.69 1335.83 669.85 1336.30 666.50 C1336.67 663.86 1337.30 661.83 1337.80 659.50"/>
</g>
<!-- tick labels -->
<g font-size="46.5" text-anchor="middle">
<text x="115" y="1041.8">4000</text>
<text x="465" y="1041.8">3000</text>
<text x="815" y="1041.8">2000</text>
</g>
<text x="1139.14" y="1041.8" font-size="46.5">000</text>
<path fill="#000" d="M1118 1017.5 L1122.5 1015.3 L1128.2 1010.1 L1131.1 1010.1 L1131.1 1041.8 L1126.9 1041.8 L1126.9 1016.6 L1122.5 1019.7 L1118 1021.9 Z"/>
<!-- axis titles -->
<text transform="translate(477.5 1125) scale(1 1.024)" font-size="51.5">Wavenumber(cm</text>
<rect x="868" y="1095" width="10" height="2.85" fill="#000"/>
<path fill="#000" d="M881 1086.2 L884.6 1083.9 L887.6 1080 L889.96 1080 L889.96 1104.85 L887.05 1104.85 L887.05 1085.9 L883.5 1087 L881 1088.7 Z"/>
<text x="899.6" y="1125" font-size="49">)</text>
<text transform="translate(73 640) rotate(-90) scale(0.956 1)" font-size="51.8">Absorbance</text>
<!-- legend -->
<rect x="537.5" y="697.5" width="244" height="156" fill="none" stroke="#000" stroke-width="2.8"/>
<g stroke-width="5.2">
<line x1="540" y1="725" x2="640" y2="725" stroke="#505050"/>
<line x1="542" y1="775" x2="637" y2="775" stroke="#EF4040"/>
<line x1="542" y1="825.4" x2="637" y2="825.4" stroke="#1C6CDE"/>
</g>
<g font-size="42">
<text transform="translate(637 738.5) scale(1 1.03)">SB</text>
<text transform="translate(647.6 788.6) scale(1 1.03)">Na-SB</text>
<text transform="translate(647.6 838.7) scale(1 1.03)">Mg-SB</text>
</g>
</svg>
</body></html>
